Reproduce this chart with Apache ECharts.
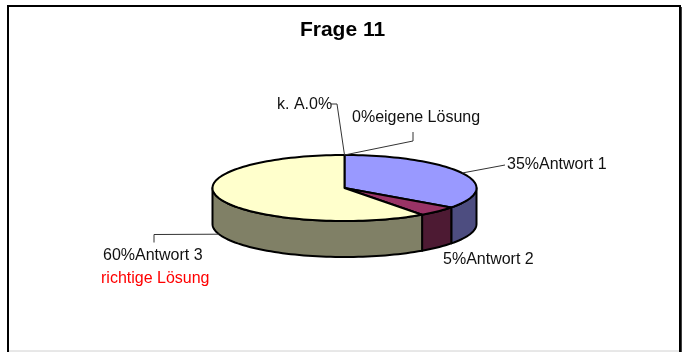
<!DOCTYPE html>
<html>
<head>
<meta charset="utf-8">
<script src="https://cdn.jsdelivr.net/npm/echarts@6/dist/echarts.min.js"></script>
<style>
  html, body { margin: 0; padding: 0; background: #fff; }
  #chart { width: 685px; height: 352px; }
</style>
</head>
<body>
<div id="chart"></div>
<script>
// Answers to question 11, share of respondents in percent
const categories = ['Antwort 1', 'Antwort 2', 'Antwort 3', 'eigene Lösung', 'k. A.'];
const shares = [35, 5, 60, 0, 0];
const noteTexts = ['', '', 'richtige Lösung', '', ''];
const nameFirst = [false, false, false, false, true];

// Slice fills: top face and darker side wall
const topColors = ['#9999FF', '#993366', '#FFFFCC', '#FFFFFF', '#FFFFFF'];
const sideColors = ['#4D4D80', '#4D1A33', '#808066', '#808080', '#808080'];

// Pie geometry (tilted ellipse with a wall)
const PIE = { cx: 344.5, cy: 188, rx: 132, ry: 33, depth: 36 };

// Label placement: text anchor plus leader bend points
const labelLayout = [
  { x: 507, y: 165, bends: [[505, 165]], onSide: false },
  { x: 443, y: 260, bends: null, onSide: false },
  { x: 103, y: 256, bends: [[154, 234.5], [154, 242.5]], onSide: true, noteY: 279, noteX: 101 },
  { x: 352, y: 118, bends: [[413, 141], [413, 132]], onSide: false },
  { x: 277, y: 105, bends: [[337, 104], [331, 104]], onSide: false }
];

const total = shares.reduce((a, b) => a + b, 0);
const starts = [];
shares.reduce((acc, v, i) => { starts[i] = acc; return acc + v; }, 0);

function pt(theta, dy) {
  return [PIE.cx + PIE.rx * Math.sin(theta), PIE.cy - PIE.ry * Math.cos(theta) + (dy || 0)];
}
function arc(t1, t2, dy) {
  const n = Math.max(2, Math.ceil(Math.abs(t2 - t1) / (Math.PI / 90)));
  const pts = [];
  for (let k = 0; k <= n; k++) pts.push(pt(t1 + (t2 - t1) * k / n, dy));
  return pts;
}

const LABEL_FONT = '16px "Liberation Sans", Arial, sans-serif';

function renderSlice(params, api) {
  const i = params.dataIndex;
  const v = api.value(0);
  const t1 = starts[i] / total * 2 * Math.PI;
  const t2 = (starts[i] + v) / total * 2 * Math.PI;
  const mid = (t1 + t2) / 2;
  const children = [];

  if (v > 0) {
    // front wall: visible where the arc runs through the lower half
    const s1 = Math.max(t1, Math.PI / 2);
    const s2 = Math.min(t2, 3 * Math.PI / 2);
    if (s2 > s1) {
      const topArc = arc(s1, s2, 0);
      const botArc = arc(s2, s1, PIE.depth);
      children.push({
        type: 'polygon',
        shape: { points: topArc.concat(botArc) },
        style: { fill: sideColors[i], stroke: '#000', lineWidth: 2, lineJoin: 'round' }
      });
    }
    // top face
    children.push({
      type: 'polygon',
      shape: { points: [[PIE.cx, PIE.cy]].concat(arc(t1, t2, 0)) },
      style: { fill: topColors[i], stroke: '#000', lineWidth: 2, lineJoin: 'round' }
    });
  }

  const lay = labelLayout[i];
  const pct = Math.round(v / total * 100) + '%';
  const text = nameFirst[i] ? categories[i] + pct : pct + categories[i];
  if (lay.bends) {
    const anchor = pt(mid, lay.onSide ? PIE.depth : 0);
    children.push({
      type: 'polyline',
      shape: { points: [anchor].concat(lay.bends) },
      style: { stroke: '#333', lineWidth: 1, fill: null }
    });
  }
  children.push({
    type: 'text',
    style: { text: text, x: lay.x, y: lay.y, font: LABEL_FONT, fill: '#111', align: 'left', verticalAlign: 'middle' }
  });
  if (noteTexts[i]) {
    children.push({
      type: 'text',
      style: { text: noteTexts[i], x: lay.noteX, y: lay.noteY, font: LABEL_FONT, fill: '#FF0000', align: 'left', verticalAlign: 'middle' }
    });
  }
  return { type: 'group', children: children };
}

const chart = echarts.init(document.getElementById('chart'), null, { renderer: 'canvas' });
chart.setOption({
  backgroundColor: '#fff',
  animation: false,
  title: {
    text: 'Frage 11',
    left: 'center',
    top: 20,
    padding: 0,
    textStyle: { fontFamily: '"Liberation Sans", Arial, sans-serif', fontSize: 21, fontWeight: 'bold', color: '#000' }
  },
  graphic: [
    { type: 'rect', shape: { x: 8, y: 6, width: 672, height: 352 }, style: { fill: null, stroke: '#000', lineWidth: 2 } },
    { type: 'line', shape: { x1: 681, y1: 7, x2: 681, y2: 352 }, style: { stroke: '#000', lineWidth: 1.5 } },
    { type: 'line', shape: { x1: 9, y1: 351, x2: 679, y2: 351 }, style: { stroke: '#d0d0d0', lineWidth: 1 } }
  ],
  series: [{
    type: 'custom',
    coordinateSystem: 'none',
    renderItem: renderSlice,
    data: shares.map((v, i) => ({ name: categories[i], value: [v] }))
  }]
});
</script>
</body>
</html>
